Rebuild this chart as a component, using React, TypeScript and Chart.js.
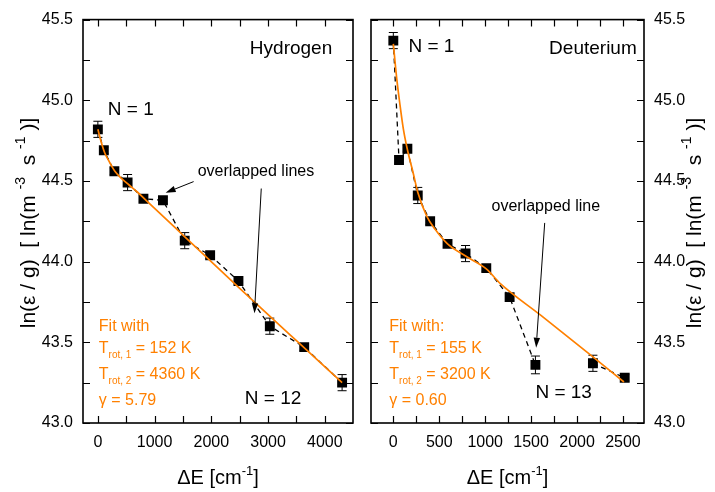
import React, { useEffect, useRef } from 'react';
import { Chart, registerables } from 'chart.js';

Chart.register(...registerables);

// ---------------- Data ----------------
const H_E = [0, 105, 291, 524, 803, 1147, 1531, 1979, 2478, 3031, 3637, 4305];
const H_V = [44.82, 44.69, 44.56, 44.49, 44.39, 44.38, 44.13, 44.04, 43.88, 43.6, 43.47, 43.25];
const H_ERR = [0.05, 0.02, 0.02, 0.05, 0.02, 0.02, 0.05, 0.02, 0.02, 0.05, 0.02, 0.05];
const H_FIT_E = [0, 60, 120, 200, 300, 420, 550, 700, 850, 1500, 2500, 3500, 4305];
const H_FIT_V = [44.82, 44.74, 44.675, 44.62, 44.56, 44.515, 44.475, 44.43, 44.38, 44.165, 43.835, 43.51, 43.25];
const H_DASH_BREAKS: number[] = [];

const D_E = [0, 62, 153, 266, 401, 590, 786, 1012, 1266, 1547, 2173, 2519];
const D_V = [45.37, 44.63, 44.7, 44.41, 44.25, 44.11, 44.05, 43.96, 43.78, 43.36, 43.37, 43.28];
const D_ERR = [0.05, 0.02, 0.02, 0.05, 0.02, 0.02, 0.05, 0.02, 0.02, 0.055, 0.05, 0.02];
const D_FIT_E = [0, 40, 73, 110, 153, 218, 266, 365, 455, 590, 800, 1012, 1165, 1600, 2173, 2511];
const D_FIT_V = [45.35, 45.12, 44.97, 44.82, 44.695, 44.545, 44.43, 44.28, 44.2, 44.11, 44.03, 43.955, 43.864, 43.67, 43.41, 43.254];
const D_DASH_BREAKS = [9];

const Y_TICKS = [43.0, 43.5, 44.0, 44.5, 45.0, 45.5];
const Y_MINOR = [43.25, 43.75, 44.25, 44.75, 45.25];
const H_X_TICKS = [0, 1000, 2000, 3000, 4000];
const H_X_MINOR = [500, 1500, 2500, 3500];
const D_X_TICKS = [0, 500, 1000, 1500, 2000, 2500];
const D_X_MINOR = [250, 750, 1250, 1750, 2250];

const H_FIT_TEXT = ['Fit with', '152 K', '4360 K', '5.79'];
const D_FIT_TEXT = ['Fit with:', '155 K', '3200 K', '0.60'];

// ---------------- Styling helpers ----------------
const FONT = "'Liberation Sans', Arial, Helvetica, sans-serif";
const ORANGE = '#ff8000';
const W = 715;
const H = 492;

type Part = { t: string; s: number; dy?: number };

function partsWidth(ctx: CanvasRenderingContext2D, parts: Part[]) {
  let w = 0;
  for (const p of parts) {
    ctx.font = `${p.s}px ${FONT}`;
    w += ctx.measureText(p.t).width;
  }
  return w;
}

function drawRich(
  ctx: CanvasRenderingContext2D,
  parts: Part[],
  x: number,
  y: number,
  align: 'left' | 'center' | 'right',
  color: string
) {
  const w = partsWidth(ctx, parts);
  let cx = align === 'left' ? x : align === 'center' ? x - w / 2 : x - w;
  ctx.fillStyle = color;
  ctx.textAlign = 'left';
  ctx.textBaseline = 'alphabetic';
  for (const p of parts) {
    ctx.font = `${p.s}px ${FONT}`;
    ctx.fillText(p.t, cx, y + (p.dy || 0));
    cx += ctx.measureText(p.t).width;
  }
}

const Y_TITLE: Part[] = [
  { t: 'ln(ε / g)  [ ln(m ', s: 21 },
  { t: '-3', s: 14, dy: -10 },
  { t: '  s ', s: 21 },
  { t: '-1', s: 14, dy: -10 },
  { t: ' )]', s: 21 },
];
const X_TITLE: Part[] = [
  { t: 'ΔE [cm', s: 20 },
  { t: '-1', s: 13, dy: -9 },
  { t: ']', s: 20 },
];

type TextAnn = { parts: Part[]; x: number; y: number; align: 'left' | 'center' | 'right'; color: string };
type ArrowAnn = { x1: number; y1: number; x2: number; y2: number };

type Panel = {
  E: number[];
  V: number[];
  ERR: number[];
  fitE: number[];
  fitV: number[];
  breaks: number[];
  xMin: number;
  xMax: number;
  xTicks: number[];
  xMinor: number[];
  yPos: 'left' | 'right';
  texts: TextAnn[];
  arrows: ArrowAnn[];
  fitText: string[];
  fitX: number;
  canvasLeft: number;
  canvasWidth: number;
  padLeft: number;
  padRight: number;
  yAxisWidth: number;
  yTitleBaseline: number;
};

function fitBlock(txt: string[], x: number): TextAnn[] {
  const sz = 16;
  return [
    { parts: [{ t: txt[0], s: sz }], x, y: 43.569, align: 'left', color: ORANGE },
    {
      parts: [
        { t: 'T', s: sz },
        { t: 'rot, 1', s: 10, dy: 5 },
        { t: ' = ' + txt[1], s: sz },
      ],
      x,
      y: 43.435,
      align: 'left',
      color: ORANGE,
    },
    {
      parts: [
        { t: 'T', s: sz },
        { t: 'rot, 2', s: 10, dy: 5 },
        { t: ' = ' + txt[2], s: sz },
      ],
      x,
      y: 43.274,
      align: 'left',
      color: ORANGE,
    },
    { parts: [{ t: 'γ = ' + txt[3], s: sz }], x, y: 43.112, align: 'left', color: ORANGE },
  ];
}

const LEFT: Panel = {
  E: H_E,
  V: H_V,
  ERR: H_ERR,
  fitE: H_FIT_E,
  fitV: H_FIT_V,
  breaks: H_DASH_BREAKS,
  xMin: -262,
  xMax: 4497,
  xTicks: H_X_TICKS,
  xMinor: H_X_MINOR,
  yPos: 'left',
  texts: [
    { parts: [{ t: 'Hydrogen', s: 19 }], x: 4131, y: 45.287, align: 'right', color: '#000' },
    { parts: [{ t: 'N = 1', s: 19 }], x: 175, y: 44.906, align: 'left', color: '#000' },
    { parts: [{ t: 'overlapped lines', s: 16 }], x: 2787, y: 44.528, align: 'center', color: '#000' },
    { parts: [{ t: 'N = 12', s: 19 }], x: 2590, y: 43.118, align: 'left', color: '#000' },
  ],
  arrows: [
    { x1: 1688, y1: 44.496, x2: 1194, y2: 44.427 },
    { x1: 2880, y1: 44.453, x2: 2760, y2: 43.68 },
  ],
  fitText: H_FIT_TEXT,
  fitX: 17,
  canvasLeft: 0,
  canvasWidth: 360,
  padLeft: 0,
  padRight: 4,
  yAxisWidth: 83,
  yTitleBaseline: 35,
};

const RIGHT: Panel = {
  E: D_E,
  V: D_V,
  ERR: D_ERR,
  fitE: D_FIT_E,
  fitV: D_FIT_V,
  breaks: D_DASH_BREAKS,
  xMin: -243,
  xMax: 2729,
  xTicks: D_X_TICKS,
  xMinor: D_X_MINOR,
  yPos: 'right',
  texts: [
    { parts: [{ t: 'Deuterium', s: 19 }], x: 2650, y: 45.287, align: 'right', color: '#000' },
    { parts: [{ t: 'N = 1', s: 19 }], x: 164, y: 45.302, align: 'left', color: '#000' },
    { parts: [{ t: 'overlapped line', s: 16 }], x: 1660, y: 44.311, align: 'center', color: '#000' },
    { parts: [{ t: 'N = 13', s: 19 }], x: 1547, y: 43.152, align: 'left', color: '#000' },
  ],
  arrows: [{ x1: 1648, y1: 44.24, x2: 1555, y2: 43.467 }],
  fitText: D_FIT_TEXT,
  fitX: -44,
  canvasLeft: 360,
  canvasWidth: 355,
  padLeft: 11,
  padRight: 0,
  yAxisWidth: 71,
  yTitleBaseline: 341,
};

function panelPlugin(p: Panel) {
  return {
    id: 'panelDeco',
    beforeDatasetsDraw(chart: any) {
      const ctx = chart.ctx as CanvasRenderingContext2D;
      const xs = chart.scales.x;
      const ys = chart.scales.y;
      ctx.save();
      ctx.strokeStyle = '#000';
      ctx.lineWidth = 1;
      p.E.forEach((e, i) => {
        const px = xs.getPixelForValue(e);
        const y1 = ys.getPixelForValue(p.V[i] + p.ERR[i]);
        const y2 = ys.getPixelForValue(p.V[i] - p.ERR[i]);
        ctx.beginPath();
        ctx.moveTo(px, y1);
        ctx.lineTo(px, y2);
        ctx.moveTo(px - 4.5, y1);
        ctx.lineTo(px + 4.5, y1);
        ctx.moveTo(px - 4.5, y2);
        ctx.lineTo(px + 4.5, y2);
        ctx.stroke();
      });
      ctx.restore();
    },
    afterDraw(chart: any) {
      const ctx = chart.ctx as CanvasRenderingContext2D;
      const a = chart.chartArea;
      const xs = chart.scales.x;
      const ys = chart.scales.y;
      ctx.save();
      // ticks (inward, all four sides)
      ctx.strokeStyle = '#000';
      ctx.lineWidth = 1.2;
      const tl = 7;
      ctx.beginPath();
      [...p.xTicks, ...p.xMinor].forEach((v) => {
        const px = Math.round(xs.getPixelForValue(v)) + 0.5;
        ctx.moveTo(px, a.bottom);
        ctx.lineTo(px, a.bottom - tl);
        ctx.moveTo(px, a.top);
        ctx.lineTo(px, a.top + tl);
      });
      [...Y_TICKS, ...Y_MINOR].forEach((v) => {
        const py = Math.round(ys.getPixelForValue(v)) + 0.5;
        ctx.moveTo(a.left, py);
        ctx.lineTo(a.left + tl, py);
        ctx.moveTo(a.right, py);
        ctx.lineTo(a.right - tl, py);
      });
      ctx.stroke();
      // frame
      ctx.lineWidth = 1.6;
      ctx.strokeRect(a.left, a.top, a.right - a.left, a.bottom - a.top);

      // arrows
      ctx.lineWidth = 1;
      p.arrows.forEach((ar) => {
        const x1 = xs.getPixelForValue(ar.x1);
        const y1 = ys.getPixelForValue(ar.y1);
        const x2 = xs.getPixelForValue(ar.x2);
        const y2 = ys.getPixelForValue(ar.y2);
        const ang = Math.atan2(y2 - y1, x2 - x1);
        const hl = 10;
        const hw = 3.2;
        const bx = x2 - hl * Math.cos(ang);
        const by = y2 - hl * Math.sin(ang);
        ctx.beginPath();
        ctx.moveTo(x1, y1);
        ctx.lineTo(bx, by);
        ctx.stroke();
        ctx.beginPath();
        ctx.moveTo(x2, y2);
        ctx.lineTo(bx + hw * Math.sin(ang), by - hw * Math.cos(ang));
        ctx.lineTo(bx - hw * Math.sin(ang), by + hw * Math.cos(ang));
        ctx.closePath();
        ctx.fillStyle = '#000';
        ctx.fill();
      });

      // texts
      const all = [...p.texts, ...fitBlock(p.fitText, p.fitX)];
      all.forEach((t) => {
        drawRich(ctx, t.parts, xs.getPixelForValue(t.x), ys.getPixelForValue(t.y), t.align, t.color);
      });

      // axis titles
      drawRich(ctx, X_TITLE, (a.left + a.right) / 2, 484, 'center', '#000');
      ctx.save();
      ctx.translate(p.yTitleBaseline, 223);
      ctx.rotate(-Math.PI / 2);
      drawRich(ctx, Y_TITLE, 0, 0, 'center', '#000');
      ctx.restore();
      ctx.restore();
    },
  };
}

function makeConfig(p: Panel): any {
  const pts = p.E.map((x, i) => ({ x, y: p.V[i] }));
  return {
    type: 'scatter',
    data: {
      datasets: [
        {
          label: 'fit',
          data: p.fitE.map((x, i) => ({ x, y: p.fitV[i] })),
          showLine: true,
          borderColor: ORANGE,
          borderWidth: 1.7,
          pointRadius: 0,
          cubicInterpolationMode: 'monotone',
          order: 0,
        },
        {
          label: 'points',
          data: pts,
          showLine: false,
          pointStyle: 'rect',
          pointRadius: 7,
          pointBackgroundColor: '#000',
          pointBorderWidth: 0,
          order: 1,
        },
        {
          label: 'dashed',
          data: pts,
          showLine: true,
          borderColor: '#000',
          borderWidth: 1.3,
          borderDash: [5, 4],
          pointRadius: 0,
          order: 2,
          segment: {
            borderColor: (c: any) => (p.breaks.includes(c.p0DataIndex) ? 'rgba(0,0,0,0)' : undefined),
          },
        },
      ],
    },
    options: {
      animation: false,
      responsive: false,
      maintainAspectRatio: false,
      events: [],
      layout: { padding: { top: 13, bottom: 0, left: p.padLeft, right: p.padRight } },
      plugins: { legend: { display: false }, tooltip: { enabled: false } },
      scales: {
        x: {
          type: 'linear',
          min: p.xMin,
          max: p.xMax,
          grid: { display: false, drawTicks: false },
          border: { display: false },
          afterBuildTicks: (ax: any) => {
            ax.ticks = p.xTicks.map((v) => ({ value: v }));
          },
          afterFit: (ax: any) => {
            ax.height = 69;
          },
          ticks: {
            autoSkip: false,
            maxRotation: 0,
            color: '#000',
            padding: 10,
            font: { family: FONT, size: 16 },
            callback: (v: any) => String(v),
          },
        },
        y: {
          type: 'linear',
          position: p.yPos,
          min: 43.0,
          max: 45.5,
          grid: { display: false, drawTicks: false },
          border: { display: false },
          afterBuildTicks: (ax: any) => {
            ax.ticks = Y_TICKS.map((v) => ({ value: v }));
          },
          afterFit: (ax: any) => {
            ax.width = p.yAxisWidth;
          },
          ticks: {
            autoSkip: false,
            color: '#000',
            padding: 10,
            font: { family: FONT, size: 16 },
            callback: (v: any) => Number(v).toFixed(1),
          },
        },
      },
    },
    plugins: [panelPlugin(p)],
  };
}

function PanelChart({ p }: { p: Panel }) {
  const ref = useRef<HTMLCanvasElement | null>(null);
  useEffect(() => {
    if (!ref.current) return;
    const chart = new Chart(ref.current, makeConfig(p));
    return () => chart.destroy();
  }, [p]);
  return (
    <canvas
      ref={ref}
      width={p.canvasWidth}
      height={H}
      style={{ position: 'absolute', left: p.canvasLeft, top: 0, width: p.canvasWidth, height: H }}
    />
  );
}

export default function App() {
  return (
    <div style={{ position: 'fixed', left: 0, top: 0, width: W, height: H, background: '#fff', overflow: 'hidden' }}>
      <PanelChart p={LEFT} />
      <PanelChart p={RIGHT} />
    </div>
  );
}
